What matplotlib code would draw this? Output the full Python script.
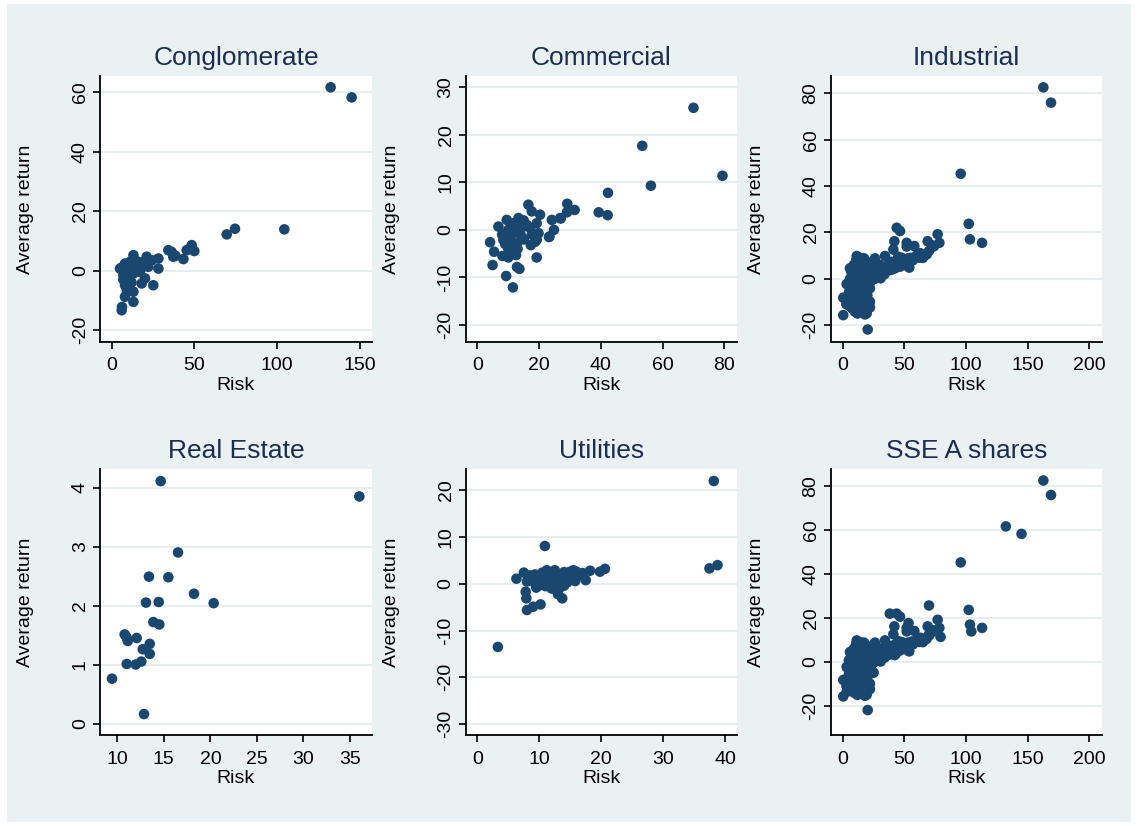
import matplotlib
matplotlib.use('Agg')
import matplotlib.pyplot as plt
import numpy as np
from matplotlib.patches import Rectangle

plt.rcParams['font.family'] = ['Liberation Sans', 'DejaVu Sans']
plt.rcParams['axes.unicode_minus'] = False

# Conglomerate
cong_risk = [132.3, 145.0, 104.3, 74.5, 69.5, 48.3, 49.9, 45.3, 43.3, 34.2, 36.2, 37.2, 38.5, 28.2, 28.2,
             25.1, 21.1, 22.1, 24.2, 19.1, 13.1, 6.0, 6.0, 6.2, 8.0, 13.1, 13.1, 9.1, 8.0, 9.1, 7.0, 5.0,
             8.0, 11.1, 15.1, 17.1, 18.1, 20.1, 10, 12, 14, 16, 10, 12, 11, 9, 15, 17, 7, 10, 13, 12]
cong_ret = [61.7, 58.3, 13.9, 14.1, 12.2, 8.6, 6.6, 6.9, 3.9, 6.9, 6.3, 4.7, 5.0, 4.1, 0.7,
            -4.9, 4.7, 1.3, 3.5, 3.0, 5.2, 1.0, -13.3, -12.2, -8.8, -10.5, -7.1, -6.6, -4.9, -2.6, -1.5, 0.7,
            2.4, 3.0, 1.9, -0.4, -4.3, -2.6, 0, 2, 1, 3, -3, -1, -2, -5, 0, 2, -3, 1, -1, -4]

# Commercial
comm_risk = [70.0, 53.4, 79.4, 56.2, 42.3, 39.3, 42.2, 31.5, 29.1, 29.0, 27.0, 24.1, 24.8, 23.2, 20.3,
             16.5, 19.2, 19.2, 17.3, 11.5, 9.3, 12.8, 13.6, 4.9, 5.4, 4.1, 6.8, 8.1, 10.0, 12.5, 12.4,
             17.6, 26.8, 23.3, 18.7, 11.7, 14.9, 17.1, 17.6, 10.6, 8.4, 12.8, 9.5, 13.3, 19.2, 19.8,
             10, 11, 9, 12, 13, 15, 14, 16, 10, 8, 11, 13, 15, 12]
comm_ret = [25.7, 17.7, 11.4, 9.3, 7.8, 3.7, 3.1, 4.2, 5.5, 3.7, 2.4, 2.1, 0.0, -1.5, 3.2,
            5.3, -2.1, -5.8, -3.2, -12.1, -9.7, -7.8, -8.2, -7.4, -4.6, -2.6, 0.7, -5.5, -5.8, -5.3, -4.3,
            3.9, 2.5, -1.4, -2.5, 1.4, 0.7, 0.4, -1.0, -1.4, -2.1, -2.8, 2.1, 2.5, 1.4, -0.7,
            0, -1, -3, -3, 0, 2, -1, 1, -4, -1, 1, -4, -2, 1]

# Industrial
ind_risk = [162.7, 168.9, 95.7, 102.2, 103.2, 113.0, 77.0, 78.4, 73.0, 68.9, 68.1, 62.1, 58.1, 51.9, 51.9,
            54.0, 43.8, 46.5, 41.9, 41.1, 34.3, 26.2, 30.8, 20.3, 11.4, 17.3, 0.5, 0.5, 3.2, 18.1, 22.1,
            22.1, 22.1, 38.4, 46.5, 72.2, 66.8, 60.0, 53.2, 53.2, 45.1, 39.7, 12.7, 31.6, 20.8, 20.8,
            19.5, 4.5, 5.9, 10.0, 15.4, 23.5, 42.4, 47.9, 37.0,
            5, 6, 7, 8, 8, 9, 10, 11, 12, 13, 14, 15, 16, 17, 18, 6, 7, 8, 9, 10, 10, 11, 12, 12, 13, 14,
            15, 16, 17, 18, 19, 20, 22, 24, 25, 27, 28, 30, 32, 34, 36, 38, 40, 42, 44, 46, 48, 50, 52,
            55, 57, 60, 63, 65, 70, 74, 9, 11, 13, 15, 14, 16, 7, 6, 5, 4, 3, 9, 10, 12, 14, 16, 19, 20,
            21, 23, 26, 29, 18, 13, 11, 8, 19, 21, 23, 25, 17, 15, 12, 10]
ind_ret = [82.6, 76.0, 45.3, 23.7, 17.0, 15.5, 19.2, 15.5, 14.1, 16.2, 10.5, 9.1, 14.1, 15.5, 13.9,
           4.8, 22.0, 20.6, 16.2, 12.6, 9.8, 8.8, 0.2, -21.9, 9.8, 8.8, -15.7, -8.2, -2.3, -15.4, -9.9,
           -12.4, -4.1, 3.8, 5.2, 14.5, 10.2, 9.5, 8.8, 5.2, 9.5, 7.3, 8.1, 3.8, -1.3, -9.9,
           -14.9, -2.0, 4.5, -14.2, -14.2, 5.2, 4.5, 5.9, 5.9,
           -10, -12, -8, -5, -13, -11, -9, -6, -12, -10, -7, -11, -8, -12, -6, -4, -1, 2, -2, 1, 4, -3, 2, 6, -1, 3,
           0, -3, 2, 5, 0, 3, 1, 4, 2, 5, 3, 6, 4, 2, 5, 7, 4, 6, 8, 7, 9, 8, 7,
           9, 8, 10, 11, 9, 12, 14, 6, 8, 7, 5, 9, 7, 3, 0, -6, -8, -11, -7, -14, -15, -13, -14, -11, -7,
           -2, -1, 0, 1, -9, 4, 1, -9, 4, 6, 7, 7, -4, -6, -4, -1]

# Real Estate
re_risk = [14.66, 36.0, 16.52, 13.4, 15.48, 18.24, 20.35, 13.08, 14.45, 13.87, 14.51, 10.79, 11.12, 12.08,
           13.48, 12.73, 13.48, 11.01, 11.98, 12.58, 9.43, 12.87, 11.0]
re_ret = [4.11, 3.85, 2.90, 2.49, 2.48, 2.20, 2.04, 2.05, 2.06, 1.72, 1.68, 1.51, 1.40, 1.45,
          1.35, 1.26, 1.18, 1.01, 1.00, 1.05, 0.76, 0.16, 1.46]

# Utilities
util_risk = [38.2, 37.5, 38.8, 10.9, 3.3, 18.2, 17.5, 19.8, 20.6, 6.3, 7.5, 7.8, 7.9, 8.0, 9.0, 10.2,
             13.7, 13.1, 15.8, 15.0, 11.2, 9.3, 10.1,
             9, 10, 11, 12, 12, 13, 13, 14, 14, 15, 16, 16, 17, 11, 12, 13, 8, 8.5, 10.5, 14, 17, 9.5,
             12.5, 14.5, 15.5]
util_ret = [22.0, 3.3, 4.0, 8.1, -13.5, 2.8, 0.8, 2.6, 3.2, 1.1, 2.4, -1.7, -3.1, -5.6, -4.9, -4.4,
            -3.1, -1.3, 0.6, 2.6, 2.9, 2.0, -0.3,
            0.5, 1.5, 0.8, 1.8, 0.2, 2.2, 0.8, 1.6, 2.5, 1.2, 2.0, 2.6, 2.3, -0.5, -1.0, -2.2, 0.5, 1.8, 2.4,
            -0.4, 1.8, -0.8, 2.9, 0.3, 2.9]

titles = ['Conglomerate', 'Commercial', 'Industrial', 'Real Estate', 'Utilities', 'SSE A shares']

# the whole market is every sector together
sse_risk = cong_risk + comm_risk + ind_risk + re_risk + util_risk
sse_ret = cong_ret + comm_ret + ind_ret + re_ret + util_ret

panels = [(cong_risk, cong_ret), (comm_risk, comm_ret), (ind_risk, ind_ret),
          (re_risk, re_ret), (util_risk, util_ret), (sse_risk, sse_ret)]

xticks = [[0, 50, 100, 150], [0, 20, 40, 60, 80], [0, 50, 100, 150, 200],
          [10, 15, 20, 25, 30, 35], [0, 10, 20, 30, 40], [0, 50, 100, 150, 200]]
yticks = [[-20, 0, 20, 40, 60], [-20, -10, 0, 10, 20, 30], [-20, 0, 20, 40, 60, 80],
          [0, 1, 2, 3, 4], [-30, -20, -10, 0, 10, 20], [-20, 0, 20, 40, 60, 80]]
xlims = [(-7.1, 157.3), (-3.8, 84), (-9.7, 210), (8.14, 37.36), (-1.9, 41.9), (-9.7, 210)]
ylims = [(-24, 65.5), (-23.6, 32.4), (-27.3, 87.5), (-0.2, 4.31), (-32.4, 24.5), (-33.4, 87.7)]

W, H = 1138, 826
fig = plt.figure(figsize=(W / 100, H / 100), dpi=100)
fig.patch.set_facecolor('white')
fig.patches.append(Rectangle((7 / W, 1 - 822 / H), 1124 / W, 818 / H, transform=fig.transFigure,
                             facecolor='#eaf1f3', edgecolor='none', zorder=-10))

lefts = [100, 465.7, 830.7]
widths = [272, 271, 271]
tops = [76, 469.3]
ht = 266

navy = '#1a476f'
for i in range(6):
    r, c = divmod(i, 3)
    ax = fig.add_axes([lefts[c] / W, 1 - (tops[r] + ht) / H, widths[c] / W, ht / H])
    ax.set_facecolor('white')
    ax.scatter(panels[i][0], panels[i][1], s=58, color=navy, edgecolors='none', zorder=3)
    ax.set_xlim(xlims[i])
    ax.set_ylim(ylims[i])
    ax.set_xticks(xticks[i])
    ax.set_yticks(yticks[i])
    ax.yaxis.grid(True, color='#e4edf0', lw=1.3)
    ax.set_axisbelow(True)
    for s in ['top', 'right']:
        ax.spines[s].set_visible(False)
    for s in ['left', 'bottom']:
        ax.spines[s].set_linewidth(1.3)
    ax.tick_params(axis='both', length=5, width=1.2, labelsize=14)
    ax.tick_params(axis='x', pad=6)
    ax.tick_params(axis='y', pad=3)
    for lab in ax.get_yticklabels():
        lab.set_rotation(90)
        lab.set_va('center')
    ax.set_xlabel('Risk', fontsize=14, labelpad=2)
    ax.set_ylabel('Average return', fontsize=14, labelpad=27)
    ax.set_title(titles[i], fontsize=19, color='#1c2d52', pad=8)

fig.savefig('out.png', dpi=100, facecolor=fig.get_facecolor())
